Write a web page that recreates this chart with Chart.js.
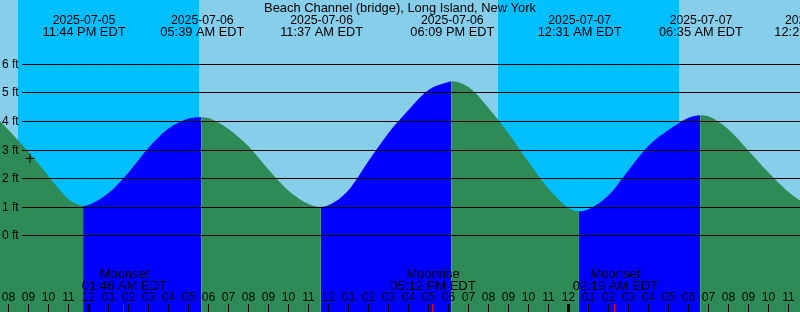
<!DOCTYPE html>
<html>
<head>
<meta charset="utf-8">
<script src="https://cdn.jsdelivr.net/npm/chart.js@4.4.1/dist/chart.umd.min.js"></script>
<style>
  html, body { margin: 0; padding: 0; background: #87ceeb; }
  canvas { display: block; }
</style>
</head>
<body>
<canvas id="tideChart" width="800" height="312"></canvas>
<script>
// hours counted from 2025-07-05 08:00 PM EDT
const tideHours = [-1, 0, 1, 2, 2.5, 3, 3.4, 3.733, 4, 5, 6, 7, 8, 9, 9.65, 10, 11, 12, 13, 14, 15, 15.617,
    16, 17, 18, 19, 20, 21, 22, 22.15, 23, 24, 25, 26, 27, 28, 28.517, 29, 30, 31, 32, 33, 34, 34.583,
    35, 36, 37, 38, 39, 40, 40.35];
const tideFeet = [4.45, 3.70, 2.93, 2.09, 1.66, 1.28, 1.12, 1.05, 1.08, 1.50, 2.22, 3.08, 3.75, 4.10, 4.15, 4.12, 3.74, 3.13, 2.32, 1.58, 1.12, 1.02,
    1.07, 1.60, 2.62, 3.60, 4.40, 5.10, 5.38, 5.40, 5.20, 4.47, 3.58, 2.58, 1.65, 0.98, 0.86, 0.93, 1.42, 2.30, 3.15, 3.70, 4.13, 4.22,
    4.18, 3.72, 2.98, 2.22, 1.54, 1.08, 1.03];

const extremeHours = [3.733, 9.65, 15.617, 22.15, 28.517, 34.583, 40.35];
const extremeDates = ['2025-07-05', '2025-07-06', '2025-07-06', '2025-07-06', '2025-07-07', '2025-07-07', '2025-07-07'];
const extremeTimes = ['11:44 PM EDT', '05:39 AM EDT', '11:37 AM EDT', '06:09 PM EDT', '12:31 AM EDT', '06:35 AM EDT', '12:21 PM EDT'];

const sunsetHours = [0.475, 24.46];
const sunriseHours = [9.525, 33.51];

const moonHours = [5.767, 21.2, 30.317];
const moonNames = ['Moonset', 'Moonrise', 'Moonset'];
const moonTimes = ['01:46 AM EDT', '05:12 PM EDT', '02:19 AM EDT'];

const hourLabels = ['08', '09', '10', '11', '12', '01', '02', '03', '04', '05', '06', '07',
    '08', '09', '10', '11', '12', '01', '02', '03', '04', '05', '06', '07',
    '08', '09', '10', '11', '12', '01', '02', '03', '04', '05', '06', '07',
    '08', '09', '10', '11'];
const midnightHours = [4, 28];

const feetTicks = [0, 1, 2, 3, 4, 5, 6];
const nowPoint = [{ x: 1.075, y: 2.71 }];

const title = 'Beach Channel (bridge), Long Island, New York';
const FAM = "'Liberation Sans', Arial, sans-serif";
const font = px => px + 'px ' + FAM;

const tideDecor = {
    id: 'tideDecor',
    beforeDraw(chart) {
        const { ctx, scales: { x } } = chart;
        ctx.save();
        ctx.fillStyle = '#87ceeb';
        ctx.fillRect(0, 0, chart.width, chart.height);
        ctx.fillStyle = '#00bfff';
        sunsetHours.forEach((s, i) => {
            const x0 = Math.round(x.getPixelForValue(s));
            const x1 = Math.round(x.getPixelForValue(sunriseHours[i]));
            ctx.fillRect(x0, 0, x1 - x0, chart.height);
        });
        ctx.restore();
    },
    afterDatasetsDraw(chart) {
        const { ctx, scales: { x, y } } = chart;
        ctx.save();
        // depth lines
        ctx.strokeStyle = '#000';
        ctx.lineWidth = 1;
        ctx.font = font(12);
        ctx.fillStyle = '#000';
        ctx.textBaseline = 'middle';
        ctx.textAlign = 'left';
        feetTicks.forEach(v => {
            const py = Math.floor(y.getPixelForValue(v)) + 0.5;
            ctx.beginPath();
            ctx.moveTo(22, py);
            ctx.lineTo(chart.width, py);
            ctx.stroke();
            ctx.fillText(v + ' ft', 2, py);
        });

        // top captions
        ctx.textBaseline = 'alphabetic';
        ctx.textAlign = 'center';
        ctx.font = font(12.9);
        ctx.fillText(title, chart.width / 2, 12);
        extremeHours.forEach((h, i) => {
            const px = x.getPixelForValue(h) + 0.8;
            ctx.font = font(12.25);
            ctx.fillText(extremeDates[i], px, 24);
            ctx.font = font(12.8);
            ctx.fillText(extremeTimes[i], px, 36);
        });

        // moon events
        ctx.font = font(13);
        moonHours.forEach((h, i) => {
            const px = x.getPixelForValue(h) + 0.5;
            ctx.fillText(moonNames[i], px, 278);
            ctx.fillText(moonTimes[i], px, 290);
        });

        // hour ticks
        ctx.font = font(12);
        hourLabels.forEach((lab, i) => {
            const px = Math.floor(x.getPixelForValue(i));
            ctx.fillStyle = '#000';
            ctx.fillText(lab, px + 0.5, 301);
            if (midnightHours.includes(i)) {
                ctx.fillRect(px - 1, 304, 3, 8);
            } else {
                ctx.fillRect(px, 304, 1, 8);
            }
        });
        ctx.fillStyle = '#ff0000';
        moonHours.forEach(h => {
            const px = Math.floor(x.getPixelForValue(h));
            ctx.fillRect(px, 304, 1, 8);
        });
        ctx.restore();
    }
};

const chart = new Chart(document.getElementById('tideChart').getContext('2d'), {
    type: 'line',
    data: {
        datasets: [{
            label: 'now',
            type: 'scatter',
            data: nowPoint,
            pointStyle: 'cross',
            pointRadius: 4.5,
            borderColor: '#000',
            backgroundColor: '#000',
            borderWidth: 1,
            order: 0
        }, {
            label: 'tide',
            data: tideHours.map((h, i) => ({ x: h, y: tideFeet[i] })),
            borderWidth: 0,
            borderColor: 'rgba(0,0,0,0)',
            pointRadius: 0,
            fill: 'start',
            cubicInterpolationMode: 'monotone',
            segment: {
                backgroundColor: c => c.p1.parsed.y > c.p0.parsed.y ? '#0000ff' : '#2e8b57'
            },
            order: 1
        }]
    },
    options: {
        responsive: false,
        animation: false,
        devicePixelRatio: 1,
        layout: { padding: 0, autoPadding: false },
        scales: {
            x: { type: 'linear', min: -0.425, max: 39.575, display: false },
            y: { min: -2.655, max: 8.242, display: false }
        },
        plugins: {
            legend: { display: false },
            tooltip: { enabled: false }
        }
    },
    plugins: [tideDecor]
});
</script>
</body>
</html>
